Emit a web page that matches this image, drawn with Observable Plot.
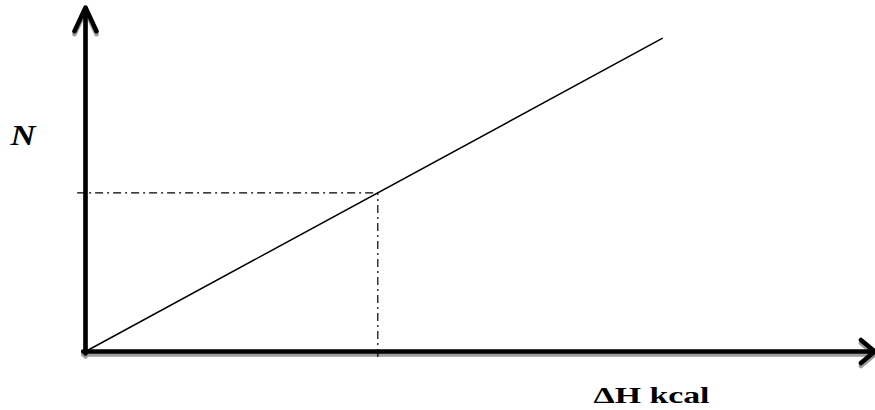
<!DOCTYPE html>
<html><head><meta charset="utf-8">
<script src="https://cdn.jsdelivr.net/npm/d3@7"></script>
<script src="https://cdn.jsdelivr.net/npm/@observablehq/plot@0.6"></script>
<style>body{margin:0;background:#fff;} .lbl text{font-family:"Liberation Serif","Times New Roman",Tinos,serif !important;}</style>
</head><body><div id="chart"></div>
<script>
// Axis extents (data units)
const xAxisStart = -0.03, xAxisEnd = 9.99;   // ΔH axis
const yAxisStart = -0.06, yAxisEnd = 9.8;    // N axis
// Proportional relation N ∝ ΔH (straight line through origin)
const lineX = [0, 7.3];
const lineY = [0, 8.92];
// Reading point with dash-dot guides
const readX = 3.7;
const readY = 4.52;
const guideStartX = -0.1;
const guideEndY = -0.17;
// Labels
const labelText = ["N", "ΔH kcal"];
const labelX = [-0.95, 6.43];
const labelY = [5.87, -1.48];

const linePts = lineX.map((x, i) => ({x, y: lineY[i]}));
const xAxis = [{x1: xAxisStart, y1: 0, x2: xAxisEnd, y2: 0}];
const yAxis = [{x1: 0, y1: yAxisStart, x2: 0, y2: yAxisEnd}];
const labels = labelText.map((t, i) => ({t, x: labelX[i], y: labelY[i]}));

const serif = "Liberation Serif";
const dashDot = "8,4,2,4";

const plot = Plot.plot({
  width: 875,
  height: 410,
  marginLeft: 85,
  marginRight: 0,
  marginTop: 0,
  marginBottom: 59,
  style: {background: "#fff", overflow: "visible"},
  x: {domain: [0, 10], axis: null},
  y: {domain: [0, 10], axis: null},
  marks: [
    // shadows
    Plot.arrow(yAxis, {x1: "x1", y1: "y1", x2: "x2", y2: "y2", stroke: "#9c9c9c", strokeWidth: 4.5, headLength: 8.7, headAngle: 50, dy: 3}),
    Plot.arrow(xAxis, {x1: "x1", y1: "y1", x2: "x2", y2: "y2", stroke: "#9c9c9c", strokeWidth: 4.5, headLength: 6, headAngle: 80, dy: 3}),
    // guides
    Plot.ruleY([readY], {x1: guideStartX, x2: readX, stroke: "#000", strokeWidth: 1.2, strokeDasharray: dashDot}),
    Plot.ruleX([readX], {y1: guideEndY, y2: readY, stroke: "#000", strokeWidth: 1.2, strokeDasharray: dashDot}),
    // relation line
    Plot.line(linePts, {x: "x", y: "y", stroke: "#000", strokeWidth: 1.5}),
    // axes
    Plot.arrow(yAxis, {x1: "x1", y1: "y1", x2: "x2", y2: "y2", stroke: "#000", strokeWidth: 4.5, headLength: 8.7, headAngle: 50}),
    Plot.arrow(xAxis, {x1: "x1", y1: "y1", x2: "x2", y2: "y2", stroke: "#000", strokeWidth: 4.5, headLength: 6, headAngle: 80}),
    // labels
    Plot.text(labels.slice(0, 1), {x: "x", y: "y", text: "t", textAnchor: "start", lineAnchor: "bottom",
      fontFamily: serif, fontWeight: "bold", fontStyle: "italic", fontSize: 30, fill: "#000", className: "lbl lbl-n"}),
    Plot.text(labels.slice(1), {x: "x", y: "y", text: "t", textAnchor: "start", lineAnchor: "bottom",
      fontFamily: serif, fontWeight: "bold", fontSize: 23, fill: "#000", className: "lbl lbl-x"})
  ]
});
document.getElementById("chart").appendChild(plot);
d3.select(plot).selectAll(".lbl-x text").attr("textLength", 116).attr("lengthAdjust", "spacingAndGlyphs");
d3.select(plot).selectAll(".lbl-n text").attr("textLength", 25).attr("lengthAdjust", "spacingAndGlyphs");
</script>
</body></html>
